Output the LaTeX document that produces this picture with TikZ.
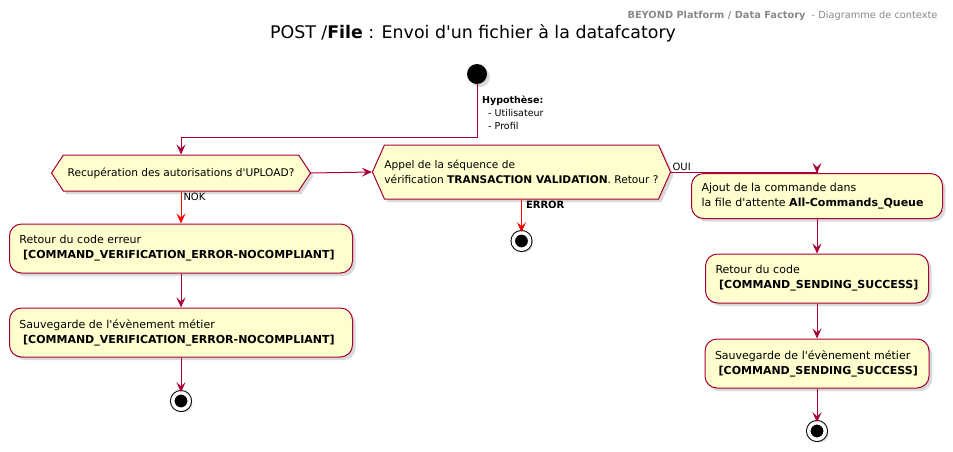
\documentclass[tikz,border=0pt]{standalone}
\usepackage{fontspec}
\setmainfont{DejaVu Sans}
\usetikzlibrary{arrows.meta,shapes.symbols,shadows}
\definecolor{LineRed}{HTML}{A80036}
\definecolor{ArrowRed}{HTML}{FF0000}
\definecolor{BoxFill}{HTML}{FEFECE}
\definecolor{HeadGray}{HTML}{888888}
\newcommand\q{\textquotesingle}
\newcommand\txtauth{Recupération des autorisations d\q UPLOAD?}
\newcommand\txtcheck{Appel de la séquence de\\vérification \textbf{TRANSACTION VALIDATION}. Retour ?}
\newcommand\txterr{Retour du code erreur\\\ \textbf{[COMMAND\_VERIFICATION\_ERROR-NOCOMPLIANT]}}
\newcommand\txtsaveerr{Sauvegarde de l\q évènement métier\\\ \textbf{[COMMAND\_VERIFICATION\_ERROR-NOCOMPLIANT]}}
\newcommand\txtqueue{Ajout de la commande dans\\la file d\q attente \textbf{All-Commands\_Queue}}
\newcommand\txtok{Retour du code\\\ \textbf{[COMMAND\_SENDING\_SUCCESS]}}
\newcommand\txtsaveok{Sauvegarde de l\q évènement métier\\\ \textbf{[COMMAND\_SENDING\_SUCCESS]}}
\tikzstyle{dropshade} = [drop shadow={shadow xshift=3pt, shadow yshift=-3pt, opacity=0.3}]
\tikzstyle{actbox} = [rectangle, rounded corners=12pt, draw=LineRed, fill=BoxFill, line width=1pt, align=left, inner xsep=10pt, inner ysep=0pt, font=\fontsize{11}{15}\selectfont, dropshade]
\tikzstyle{hexbox} = [signal, signal to=west and east, draw=LineRed, fill=BoxFill, line width=1pt, align=left, inner sep=0pt, font=\fontsize{10.6}{15}\selectfont, dropshade]
\tikzstyle{startdot} = [circle, fill=black, minimum size=20pt, inner sep=0pt, dropshade]
\tikzstyle{enddot} = [circle, draw=black, fill=black, double=white, double distance=3.5pt, line width=1pt, minimum size=16.5pt, inner sep=0pt, dropshade]
\tikzstyle{lbl} = [inner sep=1pt, font=\fontsize{10}{12}\selectfont]
\tikzset{flow/.style={draw=LineRed, line width=1pt, -{Stealth[length=10pt,width=9pt,inset=4pt]}},
  errflow/.style={flow, draw=ArrowRed}}

\begin{document}
\begin{tikzpicture}[x=1pt, y=-1pt]
\useasboundingbox (0,0) rectangle (953,451);
\node[anchor=east, text=HeadGray, font=\fontsize{9.8}{11}\selectfont] (head) at (941,16) {\textbf{BEYOND Platform / Data Factory}\ \ - Diagramme de contexte};
\node[font=\fontsize{17.4}{20}\selectfont] (title) at (473,33) {POST /\textbf{File} : Envoi d\q un fichier à la datafcatory};
\node[startdot] (start) at (477,74) {};
\node[anchor=north west, align=left, inner sep=0pt, font=\fontsize{9.5}{13}\selectfont] (hyp) at (482,96) {\textbf{Hypothèse:}\\ \ \ - Utilisateur\\ \ \ - Profil};
\node[hexbox, minimum width=259, minimum height=36, signal pointer angle=113] (auth) at (181,173) {\txtauth};
\node[hexbox, minimum width=295, minimum height=54, signal pointer angle=132] (check) at (521.5,172) {\txtcheck};
\node[actbox, text width=323, minimum height=49] (err) at (181,248.5) {\txterr};
\node[actbox, text width=323, minimum height=49] (saveerr) at (181,332.5) {\txtsaveerr};
\node[enddot] (endA) at (181,401) {};
\node[enddot] (endB) at (521.5,241) {};
\node[actbox, text width=231, minimum height=45] (queue) at (817,196) {\txtqueue};
\node[actbox, text width=203, minimum height=49] (ok) at (817,278.5) {\txtok};
\node[actbox, text width=204, minimum height=49] (saveok) at (817,363.5) {\txtsaveok};
\node[enddot] (endC) at (817,431) {};
\coordinate (bend) at (477,137);
\draw[flow] (start) -- (bend) -| (auth.north);
\draw[flow] (auth.east) -- (check.west);
\draw[errflow] (auth.south) -- node[lbl, anchor=north west, pos=0, xshift=1pt] {NOK} (err.north);
\draw[flow] (err) -- (saveerr);
\draw[flow] (saveerr) -- (endA);
\draw[errflow] (check.south) -- node[lbl, anchor=north west, pos=0, xshift=3pt, font=\fontsize{10}{12}\selectfont\bfseries] {ERROR} (endB);
\draw[flow] (check.east) -- node[lbl, anchor=south west, pos=0] {OUI} (check.east -| queue.north) -- (queue.north);
\draw[flow] (queue) -- (ok);
\draw[flow] (ok) -- (saveok);
\draw[flow] (saveok) -- (endC);
\end{tikzpicture}
\end{document}
